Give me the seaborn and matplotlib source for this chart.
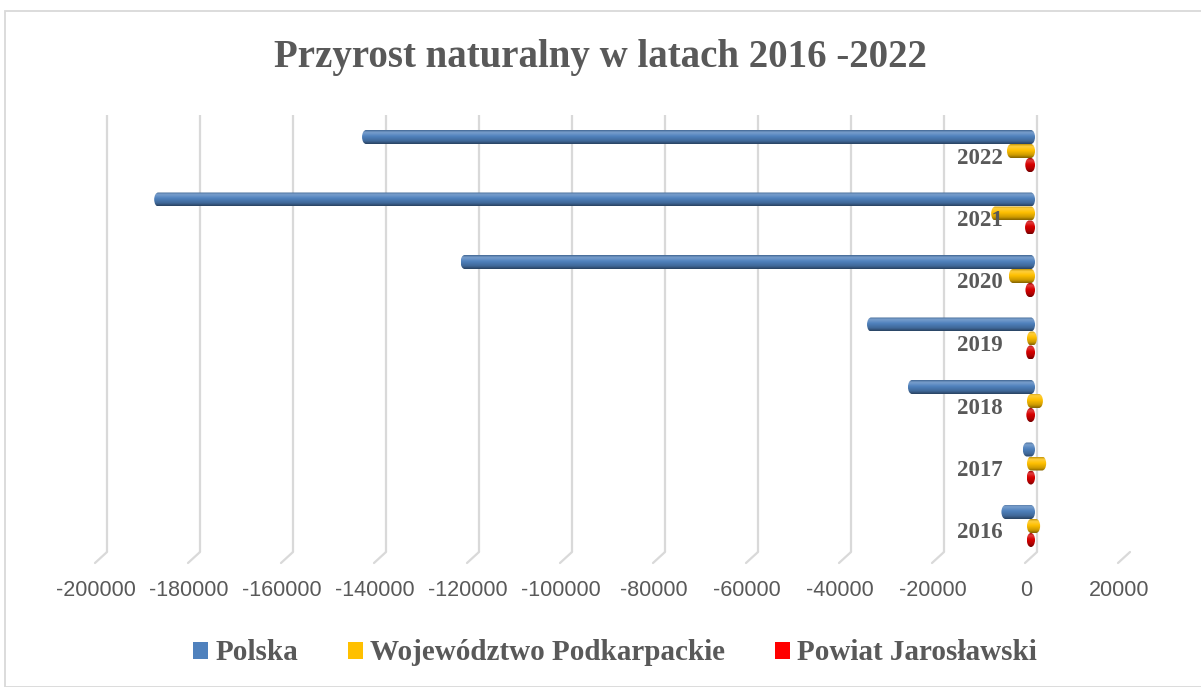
import numpy as np
import pandas as pd
import seaborn as sns
import matplotlib
matplotlib.use("Agg")
import matplotlib.pyplot as plt
from matplotlib.path import Path
from matplotlib.patches import PathPatch, Patch, Rectangle
from matplotlib.transforms import ScaledTranslation, Affine2D
from matplotlib.colors import LinearSegmentedColormap, to_rgb
from matplotlib.lines import Line2D
from matplotlib.font_manager import FontProperties

# ---------------- data ----------------
years = ["2016", "2017", "2018", "2019", "2020", "2021", "2022"]
polska = [-5500, -900, -25600, -34400, -121800, -187700, -143000]
podkarpackie = [1100, 2400, 1700, 400, -3900, -7700, -4300]
jaroslawski = [-40, -60, -140, -180, -330, -420, -370]
series = ["Polska", "Województwo Podkarpackie", "Powiat Jarosławski"]
bar_colors = ["#4F81BD", "#FFC000", "#D80000"]
legend_colors = ["#4F81BD", "#FFC000", "#FF0000"]
x_ticks = list(range(-200000, 20001, 20000))
title = "Przyrost naturalny w latach 2016 -2022"

df = pd.DataFrame({
    "Rok": years * 3,
    "Seria": [series[0]] * 7 + [series[1]] * 7 + [series[2]] * 7,
    "Wartość": polska + podkarpackie + jaroslawski,
})
order = years[::-1]

sns.set_theme(style="white")
plt.rcParams["font.family"] = ["Liberation Sans", "DejaVu Sans"]
SERIF = ["Liberation Serif", "DejaVu Serif"]
GRAY = "#595959"

W, H = 1201, 687
fig = plt.figure(figsize=(W / 100, H / 100), dpi=100)
fig.patch.set_facecolor("white")
ax = fig.add_axes([101 / W, 1 - 552 / H, (1124 - 101) / W, (552 - 115) / H])
ax.set_facecolor("none")

sns.barplot(data=df, y="Rok", x="Wartość", hue="Seria", order=order,
            hue_order=series, palette=bar_colors, orient="h", width=0.672,
            gap=0, saturation=1, errorbar=None, legend=False, ax=ax)

XMIN, XMAX = -200000, 20000
YMIN, YMAX = 6.416, -0.576
ax.set_xlim(XMIN, XMAX)
ax.set_ylim(YMIN, YMAX)
for s in ax.spines.values():
    s.set_visible(False)
ax.set_xlabel("")
ax.set_ylabel("")
ax.set_yticks([])

# ---- cylinder-like bars ----
px_per_unit = (1124 - 101) / (XMAX - XMIN)
r = 4 / px_per_unit


def mix(c, t, f):
    c = np.array(to_rgb(c)); t = np.array(to_rgb(t))
    return tuple(c * (1 - f) + t * f)


grad = np.linspace(0, 1, 64).reshape(-1, 1)
for p in list(ax.patches):
    x0, w = p.get_x(), p.get_width()
    y0, h = p.get_y(), p.get_height()
    x_lo, x_hi = min(x0, x0 + w), max(x0, x0 + w)
    y_lo, y_hi = min(y0, y0 + h), max(y0, y0 + h)
    yc, ry = (y_lo + y_hi) / 2, (y_hi - y_lo) / 2
    base = p.get_facecolor()[:3]
    cmap = LinearSegmentedColormap.from_list("cyl", [
        (0.0, mix(base, "black", 0.25)),
        (0.15, mix(base, "white", 0.25)),
        (0.45, base),
        (0.8, mix(base, "black", 0.2)),
        (1.0, mix(base, "black", 0.5)),
    ])
    right = Path.arc(-90, 90).transformed(Affine2D().scale(r, ry).translate(x_hi, yc))
    left = Path.arc(90, 270).transformed(Affine2D().scale(r, ry).translate(x_lo, yc))
    verts = np.concatenate([right.vertices, left.vertices, [right.vertices[0]]])
    lcodes = left.codes.copy()
    lcodes[0] = Path.LINETO
    codes = np.concatenate([right.codes, lcodes, [Path.CLOSEPOLY]])
    clip = PathPatch(Path(verts, codes), transform=ax.transData,
                     facecolor="none", edgecolor="none")
    ax.add_patch(clip)
    im = ax.imshow(grad, extent=(x_lo - r, x_hi + r, y_hi, y_lo), aspect="auto",
                   cmap=cmap, origin="upper", interpolation="bicubic", zorder=3)
    im.set_clip_path(clip)
    p.set_visible(False)

ax.set_xlim(XMIN, XMAX)
ax.set_ylim(YMIN, YMAX)

# ---- gridlines (back wall, 3D offset) ----
grid_off = ScaledTranslation(6 / 100, 0, fig.dpi_scale_trans)
for v in x_ticks:
    ln = ax.axvline(v, color="#D9D9D9", lw=1.6, zorder=0)
    ln.set_transform(ax.get_xaxis_transform() + grid_off)
    xd = ax.transData.transform((v, 0))[0] + 6
    yd = H - 552
    fig.add_artist(Line2D([xd, xd - 12], [yd, yd - 11], color="#D9D9D9",
                          lw=1.6, transform=matplotlib.transforms.IdentityTransform()))

ax.set_xticks(x_ticks)
ax.set_xticklabels([str(v) for v in x_ticks])
ax.tick_params(axis="x", length=0, pad=20, labelsize=15.5, labelcolor=GRAY)
lab_off = ScaledTranslation(-5 / 100, 0, fig.dpi_scale_trans)
for lab in ax.get_xticklabels():
    lab.set_transform(lab.get_transform() + lab_off)

# ---- category labels ----
cat_off = ScaledTranslation(-28 / 100, -7 / 100, fig.dpi_scale_trans)
for i, yr in enumerate(order):
    ax.text(0, i, yr, transform=ax.transData + cat_off, ha="right", va="center",
            fontsize=16.5, fontweight="bold", color=GRAY, family=SERIF, zorder=5)

# ---- title ----
fig.text(0.5, 1 - 57 / H, title, ha="center", va="center", fontsize=28,
         fontweight="bold", color=GRAY, family=SERIF)

# ---- legend ----
handles = [Patch(facecolor=c, edgecolor="none", label=s)
           for s, c in zip(series, legend_colors)]
fig.legend(handles=handles, loc="center", bbox_to_anchor=(615 / W, 1 - 653 / H),
           ncol=3, frameon=False,
           prop=FontProperties(family=SERIF, weight="bold", size=21),
           labelcolor=GRAY, handlelength=0.52, handleheight=0.52,
           handletextpad=0.25, columnspacing=1.7)

# ---- outer frame ----
fig.add_artist(Rectangle((5 / W, 0), 1.0, 1 - 11 / H, transform=fig.transFigure,
                         fill=False, edgecolor="#D9D9D9", lw=1.3))

fig.savefig("out.png", dpi=100)
